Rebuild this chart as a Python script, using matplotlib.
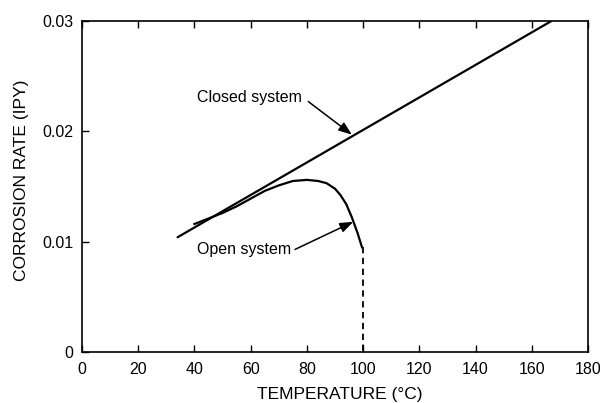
import matplotlib
matplotlib.use("Agg")
import matplotlib.pyplot as plt

plt.rcParams['font.family'] = ['Liberation Sans', 'DejaVu Sans']

# Data
closed_T = [34, 167]
closed_r = [0.0104, 0.0300]

open_T = [40, 45, 50, 55, 60, 65, 70, 75, 80, 84, 87, 90, 92, 94, 96, 98, 99.6]
open_r = [0.0116, 0.0121, 0.0126, 0.0132, 0.0139, 0.0146, 0.0151, 0.0155,
          0.0156, 0.0155, 0.0153, 0.0148, 0.0142, 0.0134, 0.0122, 0.0108, 0.0095]

dash_T = [100, 100]
dash_r = [0.0095, 0.0]

x_ticks = [0, 20, 40, 60, 80, 100, 120, 140, 160, 180]
y_ticks = [0, 0.01, 0.02, 0.03]
y_tick_labels = ["0", "0.01", "0.02", "0.03"]

fig = plt.figure(figsize=(6.0, 4.03), dpi=100)
ax = fig.add_axes([82/600, 1-352/403, (588-82)/600, (352-21)/403])

ax.plot(closed_T, closed_r, color='black', lw=1.6, solid_capstyle='round')
ax.plot(open_T, open_r, color='black', lw=1.6, solid_joinstyle='round')
ax.plot(dash_T, dash_r, color='black', lw=1.3, ls=(0, (3.5, 2.5)))

ax.set_xlim(0, 180)
ax.set_ylim(0, 0.03)
ax.set_xticks(x_ticks)
ax.set_xticklabels([str(t) for t in x_ticks])
ax.set_yticks(y_ticks)
ax.set_yticklabels(y_tick_labels)

ax.tick_params(axis='x', direction='in', length=5, width=1, top=True,
               labelsize=11.5, pad=7)
ax.tick_params(axis='y', direction='in', length=5, width=1,
               labelsize=11.5, pad=6)
for s in ax.spines.values():
    s.set_linewidth(1.2)

ax.set_xlabel("TEMPERATURE (°C)", fontsize=12.5)
ax.set_ylabel("CORROSION RATE (IPY)", fontsize=12.5)
ax.xaxis.set_label_coords(0.51, -0.105)
ax.yaxis.set_label_coords(-0.105, 0.52)

arrow = dict(arrowstyle='-|>,head_length=0.8,head_width=0.3', color='black',
             lw=1.1, shrinkA=0, shrinkB=0)
ax.text(40.8, 0.0231, "Closed system", fontsize=11.5, va='center', ha='left')
ax.annotate("", xy=(96, 0.0197), xytext=(80.5, 0.0227), arrowprops=arrow)
ax.text(40.8, 0.0093, "Open system", fontsize=11.5, va='center', ha='left')
ax.annotate("", xy=(96.5, 0.0118), xytext=(75.8, 0.0093), arrowprops=arrow)

fig.savefig("out.png", dpi=100)
